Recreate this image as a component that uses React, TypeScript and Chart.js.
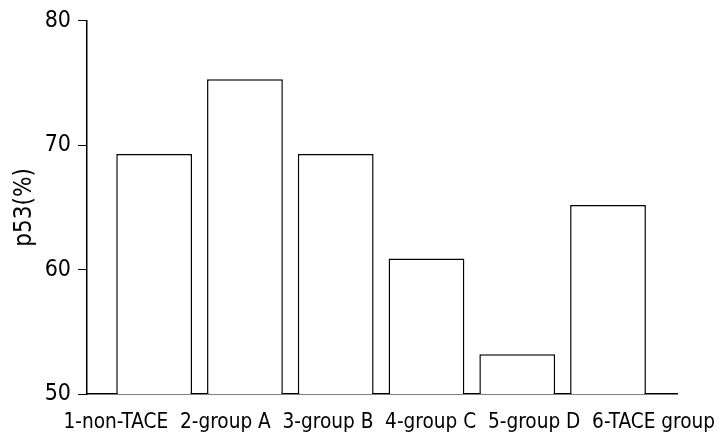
import React, { useEffect, useRef } from "react";
import { Chart, registerables } from "chart.js";

Chart.register(...registerables);

const categories = ["1-non-TACE", "2-group A", "3-group B", "4-group C", "5-group D", "6-TACE group"];
const values = [69.3, 75.3, 69.3, 60.9, 53.2, 65.2];
const yTicks = [50, 60, 70, 80];
const yTitle = "p53(%)";

const FONT = "'DejaVu Sans Condensed', 'DejaVu Sans', sans-serif";

export default function App() {
  const ref = useRef<HTMLCanvasElement | null>(null);

  useEffect(() => {
    document.body.style.margin = "0";
    const canvas = ref.current;
    if (!canvas) return;
    const chart = new Chart(canvas, {
      type: "bar",
      data: {
        datasets: [
          {
            data: values.map((v, i) => ({ x: i, y: v })),
            backgroundColor: "#ffffff",
            borderColor: "#000000",
            borderWidth: 1.5,
            borderSkipped: false,
            categoryPercentage: 1,
            barPercentage: 0.835,
            xAxisID: "x",
            yAxisID: "y",
          },
        ],
      },
      options: {
        animation: false,
        responsive: false,
        maintainAspectRatio: false,
        layout: { padding: { top: 19, right: 12, bottom: 0, left: 0 } },
        plugins: { legend: { display: false }, tooltip: { enabled: false } },
        scales: {
          x: {
            type: "linear",
            position: "bottom",
            offset: false,
            min: -0.74,
            max: 5.76,
            afterBuildTicks: (s: any) => {
              s.ticks = categories.map((_, i) => ({ value: i }));
            },
            grid: { display: false },
            border: { display: true, color: "#000", width: 1.5 },
            ticks: { display: false },
            afterFit: (s: any) => {
              s.height = 0;
            },
          },
          xLabels: {
            type: "linear",
            position: "bottom",
            fullSize: true,
            grid: { display: false },
            border: { display: false },
            ticks: { display: false },
            title: {
              display: true,
              text: categories.join("  "),
              color: "#000",
              align: "end",
              font: { family: FONT, size: 20.6 },
              padding: { top: 0, bottom: 8 },
            },
            afterFit: (s: any) => {
              s.height = 49;
            },
          },
          y: {
            min: yTicks[0],
            max: yTicks[yTicks.length - 1],
            afterBuildTicks: (s: any) => {
              s.ticks = yTicks.map((v) => ({ value: v }));
            },
            grid: {
              display: true,
              drawOnChartArea: false,
              drawTicks: true,
              tickLength: 9,
              color: "#000",
              lineWidth: 1,
            },
            border: { display: true, color: "#000", width: 1.5 },
            ticks: {
              color: "#000",
              padding: 7,
              font: { family: FONT, size: 23 },
            },
            title: {
              display: true,
              text: yTitle,
              color: "#000",
              font: { family: FONT, size: 24 },
              padding: { top: 10, bottom: 0 },
            },
            afterFit: (s: any) => {
              s.width = 87;
            },
          },
          yRightSpace: {
            type: "linear",
            position: "right",
            grid: { display: false },
            border: { display: false },
            ticks: { display: false },
            afterFit: (s: any) => {
              s.width = 38;
            },
          },
        },
      },
    });
    return () => chart.destroy();
  }, []);

  return (
    <div style={{ width: 727, height: 443 }}>
      <canvas ref={ref} width={727} height={443} style={{ display: "block" }} />
    </div>
  );
}
